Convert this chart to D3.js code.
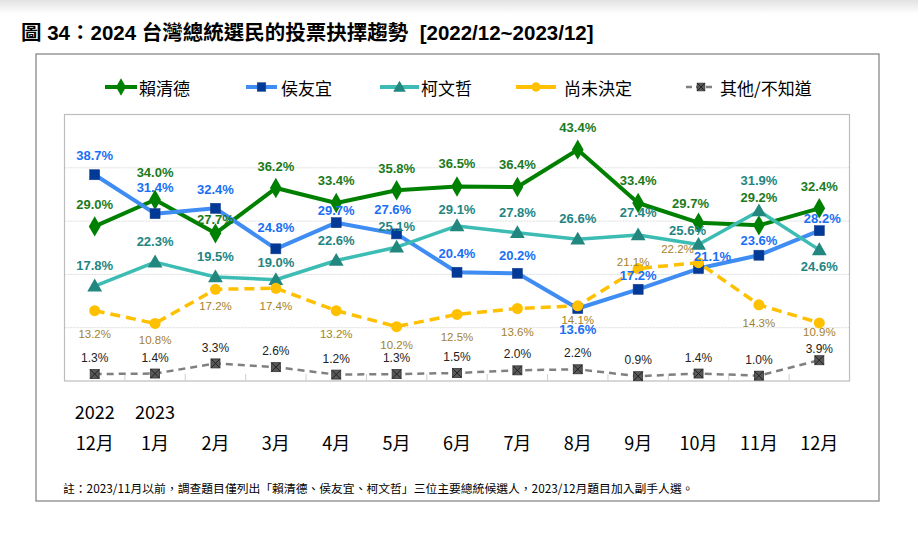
<!DOCTYPE html>
<html>
<head>
<meta charset="utf-8">
<script src="https://cdn.jsdelivr.net/npm/d3@7"></script>
<style>
  html, body { margin: 0; padding: 0; background: #fff; }
  svg { display: block; }
</style>
</head>
<body>
<svg id="chart" width="918" height="541"></svg>
<script>
// 資料
const months = ["12月", "1月", "2月", "3月", "4月", "5月", "6月", "7月", "8月", "9月", "10月", "11月", "12月"];
const years = ["2022", "2023", "", "", "", "", "", "", "", "", "", "", ""];
const seriesNames = ["賴清德", "侯友宜", "柯文哲", "尚未決定", "其他/不知道"];
const lai = [29.0, 34.0, 27.7, 36.2, 33.4, 35.8, 36.5, 36.4, 43.4, 33.4, 29.7, 29.2, 32.4];
const hou = [38.7, 31.4, 32.4, 24.8, 29.7, 27.6, 20.4, 20.2, 13.6, 17.2, 21.1, 23.6, 28.2];
const ko = [17.8, 22.3, 19.5, 19.0, 22.6, 25.1, 29.1, 27.8, 26.6, 27.4, 25.6, 31.9, 24.6];
const undecided = [13.2, 10.8, 17.2, 17.4, 13.2, 10.2, 12.5, 13.6, 14.1, 21.1, 22.2, 14.3, 10.9];
const other = [1.3, 1.4, 3.3, 2.6, 1.2, 1.3, 1.5, 2.0, 2.2, 0.9, 1.4, 1.0, 3.9];
const yTicks = [0, 10, 20, 30, 40, 50];

const title = "圖 34：2024 台灣總統選民的投票抉擇趨勢  [2022/12~2023/12]";
const note = "註：2023/11月以前，調查題目僅列出「賴清德、侯友宜、柯文哲」三位主要總統候選人，2023/12月題目加入副手人選。";

// 標籤位置微調 (dy 相對於資料點, dx 例外)
const labelDy = {
  lai: [-22, -27, -14, -22, -22, -22, -23, -22, -22, -22, -19, -28, -22],
  hou: [-19, -26, -19, -21, -12, -24, -19, -18, 21, -14, -12, -15, -12],
  ko: [-21, -21, -21, -17, -20, -21, -16, -20, -21, -22, -14, -30, 17],
  undecided: [23, 17, 17, 18, 23, 18, 23, 23, 14, -7, -14, 18, 9],
  other: [-16, -16, -15, -16, -16, -16, -16, -16, -16, -16, -16, -16, -11]
};
const labelDx = {
  lai: { 10: -8 },
  hou: { 5: -4, 10: 14, 12: 3 },
  ko: { 10: -11 },
  undecided: { 9: -5, 10: -21 },
  other: {}
};

const svg = d3.select("#chart");
const latin = "'Liberation Sans', Arial, 'Noto Sans CJK TC', sans-serif";
const cjk = "'Noto Sans CJK TC', 'Noto Sans', sans-serif";

// 頁面上方陰影
const defs = svg.append("defs");
const grad = defs.append("linearGradient").attr("id", "topShade").attr("x1", 0).attr("y1", 0).attr("x2", 0).attr("y2", 1);
grad.append("stop").attr("offset", "0%").attr("stop-color", "#e2e2e2");
grad.append("stop").attr("offset", "100%").attr("stop-color", "#ffffff");
svg.append("rect").attr("x", 0).attr("y", 0).attr("width", 918).attr("height", 14).attr("fill", "url(#topShade)");

// 標題
svg.append("text")
  .attr("x", 21).attr("y", 40)
  .attr("font-family", latin)
  .attr("font-size", 20.5).attr("font-weight", "bold")
  .attr("fill", "#000")
  .style("white-space", "pre")
  .text(title);

// 外框
svg.append("rect")
  .attr("x", 36).attr("y", 54).attr("width", 843).attr("height", 447)
  .attr("fill", "none").attr("stroke", "#7f7f7f").attr("stroke-width", 1.2);

// 繪圖區
const plot = { left: 64.5, right: 849.5, top: 114.5, bottom: 381 };

const x = d3.scaleBand()
  .domain(months.map((m, i) => i))
  .range([plot.left, plot.right]);
const y = d3.scaleLinear()
  .domain([d3.min(yTicks), d3.max(yTicks)])
  .range([plot.bottom, plot.top]);
const cx = i => x(i) + x.bandwidth() / 2;

// 格線
svg.append("g").selectAll("line")
  .data(yTicks.slice(1, -1))
  .join("line")
  .attr("x1", plot.left).attr("x2", plot.right)
  .attr("y1", d => y(d)).attr("y2", d => y(d))
  .attr("stroke", "#dcdcdc").attr("stroke-width", 1)
  .attr("stroke-dasharray", "2,1");

svg.append("rect")
  .attr("x", plot.left).attr("y", plot.top)
  .attr("width", plot.right - plot.left).attr("height", plot.bottom - plot.top)
  .attr("fill", "none").attr("stroke", "#bdbdbd").attr("stroke-width", 1.2);

// 下方刻度
svg.append("g").selectAll("line")
  .data(months.slice(1).map((m, i) => i + 1))
  .join("line")
  .attr("x1", d => x(d)).attr("x2", d => x(d))
  .attr("y1", plot.bottom).attr("y2", plot.bottom - 7)
  .attr("stroke", "#cfcfcf").attr("stroke-width", 1);

// 系列設定
const series = [
  { key: "lai", name: seriesNames[0], values: lai, color: "#008000", width: 4, dash: null,
    marker: "diamond", markerColor: "#008000", labelColor: "#1b7a1b", size: 13, weight: "bold" },
  { key: "hou", name: seriesNames[1], values: hou, color: "#3f8cf2", width: 4, dash: null,
    marker: "square", markerColor: "#003a96", labelColor: "#1a6ff5", size: 13, weight: "bold" },
  { key: "ko", name: seriesNames[2], values: ko, color: "#3cbcb3", width: 3.5, dash: null,
    marker: "triangle", markerColor: "#22877f", labelColor: "#1f8582", size: 13, weight: "bold" },
  { key: "undecided", name: seriesNames[3], values: undecided, color: "#ffc000", width: 3.5, dash: "10,6",
    marker: "circle", markerColor: "#ffc000", labelColor: "#a2822c", size: 11.5, weight: "normal" },
  { key: "other", name: seriesNames[4], values: other, color: "#808080", width: 2.5, dash: "7,5",
    marker: "xsquare", markerColor: "#595959", labelColor: "#222", size: 12, weight: "normal" }
];

function drawMarker(g, type, color, px, py, scale) {
  const s = scale || 1;
  if (type === "diamond") {
    g.append("path").attr("d", d3.symbol(d3.symbolDiamond, 120 * s * s)())
      .attr("transform", `translate(${px},${py})`).attr("fill", color);
  } else if (type === "square") {
    const h = 5 * s;
    g.append("rect").attr("x", px - h).attr("y", py - h).attr("width", 2 * h).attr("height", 2 * h)
      .attr("fill", color).attr("stroke", "#1c3f8f").attr("stroke-width", 0.6);
  } else if (type === "triangle") {
    g.append("path").attr("d", d3.symbol(d3.symbolTriangle, 95 * s * s)())
      .attr("transform", `translate(${px},${py + 1})`).attr("fill", color);
  } else if (type === "circle") {
    g.append("circle").attr("cx", px).attr("cy", py).attr("r", 5.5 * s).attr("fill", color);
  } else if (type === "xsquare") {
    const h = 4.5 * s;
    g.append("rect").attr("x", px - h).attr("y", py - h).attr("width", 2 * h).attr("height", 2 * h)
      .attr("fill", color).attr("stroke", "#333").attr("stroke-width", 0.8);
    g.append("path")
      .attr("d", `M${px - h},${py - h}L${px + h},${py + h}M${px + h},${py - h}L${px - h},${py + h}`)
      .attr("stroke", "#222").attr("stroke-width", 1);
  }
}

const line = d3.line().x((d, i) => cx(i)).y(d => y(d));

// 線與點 (繪製順序)
const drawOrder = ["lai", "hou", "ko", "undecided", "other"];
drawOrder.forEach(k => {
  const s = series.find(d => d.key === k);
  const g = svg.append("g");
  g.append("path")
    .datum(s.values)
    .attr("d", line)
    .attr("fill", "none")
    .attr("stroke", s.color)
    .attr("stroke-width", s.width)
    .attr("stroke-linejoin", "round")
    .attr("stroke-dasharray", s.dash);
  s.values.forEach((v, i) => drawMarker(g, s.marker, s.markerColor, cx(i), y(v)));
});

// 數值標籤
series.forEach(s => {
  svg.append("g").selectAll("text")
    .data(s.values)
    .join("text")
    .attr("x", (d, i) => cx(i) + (labelDx[s.key][i] || 0))
    .attr("y", (d, i) => y(d) + labelDy[s.key][i])
    .attr("text-anchor", "middle")
    .attr("dominant-baseline", "central")
    .attr("font-family", latin)
    .attr("font-size", s.size)
    .attr("font-weight", s.weight)
    .attr("fill", s.labelColor)
    .text(d => d.toFixed(1) + "%");
});

// 圖例
const legendPos = [
  { x1: 105, x2: 137, tx: 139 },
  { x1: 246, x2: 277, tx: 281 },
  { x1: 380, x2: 419, tx: 421 },
  { x1: 516, x2: 556, tx: 564 },
  { x1: 686, x2: 716, tx: 720 }
];
const legendY = 87;
series.forEach((s, i) => {
  const p = legendPos[i];
  const g = svg.append("g");
  g.append("line")
    .attr("x1", p.x1).attr("x2", p.x2).attr("y1", legendY).attr("y2", legendY)
    .attr("stroke", s.color)
    .attr("stroke-width", s.key === "other" ? 2.5 : 4)
    .attr("stroke-dasharray", s.key === "other" ? "6,4" : null);
  drawMarker(g, s.marker, s.markerColor, (p.x1 + p.x2) / 2, legendY, 0.85);
  g.append("text")
    .attr("x", p.tx).attr("y", legendY)
    .attr("dominant-baseline", "central")
    .attr("font-family", cjk)
    .attr("font-size", 17)
    .attr("fill", "#000")
    .text(s.name);
});

// X 軸標籤
svg.append("g").selectAll("text")
  .data(months)
  .join("text")
  .attr("x", (d, i) => cx(i))
  .attr("y", 442)
  .attr("text-anchor", "middle")
  .attr("dominant-baseline", "central")
  .attr("font-family", cjk)
  .attr("font-size", 18)
  .attr("fill", "#000")
  .text(d => d);

svg.append("g").selectAll("text")
  .data(years)
  .join("text")
  .attr("x", (d, i) => cx(i))
  .attr("y", 411)
  .attr("text-anchor", "middle")
  .attr("dominant-baseline", "central")
  .attr("font-family", cjk)
  .attr("font-size", 18)
  .attr("fill", "#000")
  .text(d => d);

// 註
svg.append("text")
  .attr("x", 63).attr("y", 487)
  .attr("dominant-baseline", "central")
  .attr("font-family", cjk)
  .attr("font-size", 11.8)
  .attr("fill", "#000")
  .text(note);
</script>
</body>
</html>
